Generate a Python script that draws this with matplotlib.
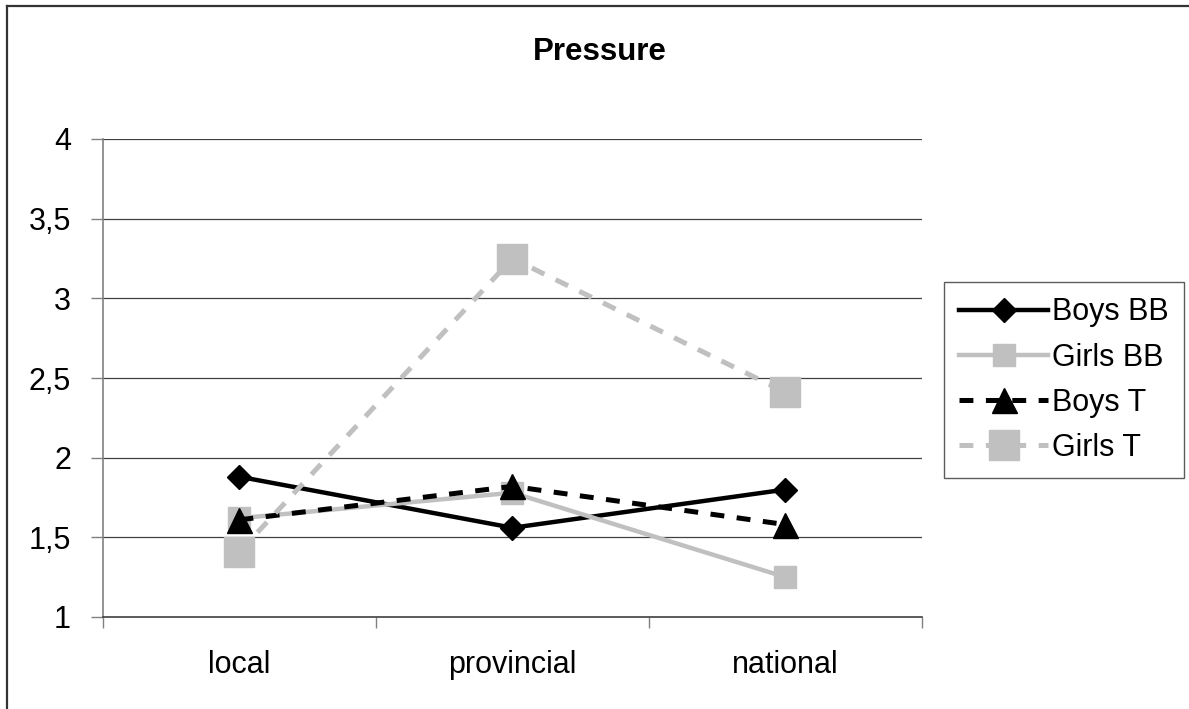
import matplotlib
matplotlib.use('Agg')
import matplotlib.pyplot as plt
from matplotlib.lines import Line2D

plt.rcParams['font.family'] = ['Liberation Sans', 'DejaVu Sans']
plt.rcParams['lines.scale_dashes'] = False

categories = ['local', 'provincial', 'national']
boys_bb = [1.88, 1.56, 1.80]
girls_bb = [1.62, 1.78, 1.25]
boys_t = [1.61, 1.82, 1.58]
girls_t = [1.41, 3.25, 2.41]
yticks = [1, 1.5, 2, 2.5, 3, 3.5, 4]
yticklabels = ['1', '1,5', '2', '2,5', '3', '3,5', '4']

grey = '#c0c0c0'

fig = plt.figure(figsize=(11.89, 7.09), dpi=100)
ax = fig.add_axes([103/1189, 1-617/709, (922-103)/1189, (617-139)/709])

x = list(range(len(categories)))

ax.plot(x, boys_bb, color='black', lw=3.2, marker='D', markersize=12.5, label='Boys BB', zorder=3)
ax.plot(x, girls_bb, color=grey, lw=3.2, marker='s', markersize=16.5, label='Girls BB', zorder=4)
ax.plot(x, boys_t, color='black', lw=3.6, dashes=(10, 9), marker='^', markersize=18,
        label='Boys T', zorder=5)
ax.plot(x, girls_t, color=grey, lw=3.6, dashes=(10, 9), marker='s', markersize=21.5,
        label='Girls T', zorder=6)

ax.set_xlim(-0.5, 2.5)
ax.set_ylim(1, 4)

for v in yticks[1:]:
    ax.axhline(v, color='#404040', lw=0.9, zorder=1)

ax.set_yticks(yticks)
ax.set_yticklabels(yticklabels, fontsize=22)
ax.tick_params(axis='y', direction='out', length=9, width=1, color='#808080', pad=14)

ax.set_xticks(x)
ax.set_xticklabels(categories, fontsize=22)
ax.set_xticks([-0.5, 0.5, 1.5, 2.5], minor=True)
ax.tick_params(axis='x', which='major', length=0, pad=24)
ax.tick_params(axis='x', which='minor', direction='out', length=8, width=1, color='#808080')

for s in ['top', 'right']:
    ax.spines[s].set_visible(False)
ax.spines['left'].set_color('#808080')
ax.spines['left'].set_linewidth(1.2)
ax.spines['bottom'].set_color('#404040')
ax.spines['bottom'].set_linewidth(1.2)

fig.text(600/1189, 1-52/709, 'Pressure', ha='center', va='center', fontsize=22.5, fontweight='bold')

leg = fig.legend(loc='upper left', bbox_to_anchor=(944/1189, 1-282/709), fontsize=22,
                 frameon=True, fancybox=False, borderaxespad=0, borderpad=0.5,
                 handlelength=2.9, handletextpad=0.15, labelspacing=0.5, edgecolor='#333333')
leg.get_frame().set_linewidth(1.0)

# chart border (only top and left visible)
fig.add_artist(Line2D([7/1189, 7/1189], [0, 1-6/709], color='#333333', lw=1.6,
                      transform=fig.transFigure))
fig.add_artist(Line2D([7/1189, 1], [1-6/709, 1-6/709], color='#333333', lw=1.6,
                      transform=fig.transFigure))

plt.savefig('out.png', dpi=100)
